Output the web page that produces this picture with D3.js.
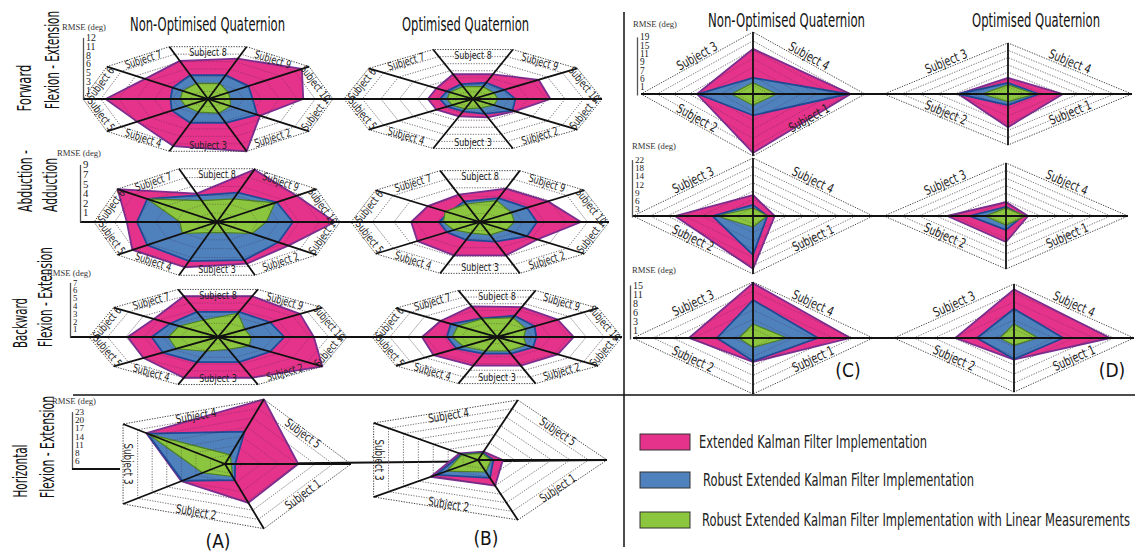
<!DOCTYPE html>
<html>
<head>
<meta charset="utf-8">
<script src="https://cdn.jsdelivr.net/npm/d3@7"></script>
<style>
  body { margin: 0; background: #fff; }
  text { font-family: "Liberation Sans Narrow", "DejaVu Sans Condensed", "Roboto Condensed", sans-serif; }
  .axis text { font-family: "Liberation Serif", "DejaVu Serif", serif; }
</style>
</head>
<body>
<div id="chart"></div>
<script>
let w = 1135;
let h = 553;

// categories
let subjects10 = ["Subject 1", "Subject 2", "Subject 3", "Subject 4", "Subject 5",
                  "Subject 6", "Subject 7", "Subject 8", "Subject 9", "Subject 10"];
let subjects5 = ["Subject 1", "Subject 2", "Subject 3", "Subject 4", "Subject 5"];
let subjects4 = ["Subject 1", "Subject 2", "Subject 3", "Subject 4"];

let seriesNames = ["Extended Kalman Filter Implementation",
                   "Robust Extended Kalman Filter Implementation",
                   "Robust Extended Kalman Filter Implementation with Linear Measurements"];

// RMSE tick labels (deg) for each row
let ticksFwd = [1, 3, 5, 6, 8, 11, 12];
let ticksAbd = [1, 2, 4, 5, 7, 9];
let ticksBwd = [1, 2, 3, 4, 5, 6, 7];
let ticksHor = [6, 8, 11, 14, 17, 20, 23];
let ticksFwdR = [1, 6, 7, 9, 11, 15, 19];
let ticksAbdR = [3, 6, 9, 12, 14, 18, 22];
let ticksBwdR = [1, 3, 6, 8, 11, 15];

// RMSE values (deg), subject order 1..n
// forward flexion - extension (A/B)
let fwdNonEKF  = [5.6, 12, 11.3, 7.8, 10.2, 6.7, 8.3, 9.2, 11.5, 9.0];
let fwdNonREKF = [5.4, 5.2, 5.2, 4.0, 3.2, 3.9, 5.2, 5.2, 4.6, 4.0];
let fwdNonLin  = [2.1, 2.8, 2.5, 2.1, 2.1, 2.5, 3.2, 3.2, 1.8, 1.5];
let fwdOptEKF  = [4.6, 4.2, 3.9, 3.9, 3.9, 3.9, 5.5, 5.5, 6.8, 6.4];
let fwdOptREKF = [4.3, 3.2, 2.5, 2.5, 2.6, 2.5, 3.2, 3.6, 3.2, 3.6];
let fwdOptLin  = [1.8, 1.5, 1.8, 1.8, 1.8, 2.1, 2.5, 2.5, 1.8, 1.7];
// abduction - adduction
let abdNonEKF  = [5.6, 6.4, 7.2, 7.2, 5.8, 9.0, 4.2, 8.8, 6.6, 8.5];
let abdNonREKF = [4.7, 5.6, 5.8, 5.4, 4.9, 5.4, 4.0, 4.3, 4.6, 4.7];
let abdNonLin  = [2.2, 1.2, 1.2, 2.2, 1.8, 5.4, 2.8, 3.2, 4.5, 2.8];
let abdOptEKF  = [4.3, 4.9, 4.9, 4.6, 4.2, 4.0, 4.2, 4.9, 4.9, 6.4];
let abdOptREKF = [3.4, 2.6, 2.2, 1.9, 1.9, 1.8, 2.8, 3.6, 3.4, 3.3];
let abdOptLin  = [1.5, 1.5, 1.3, 1.5, 1.7, 2.0, 2.2, 3.0, 1.8, 1.6];
// backward flexion - extension
let bwdNonEKF  = [7.0, 6.0, 6.0, 5.0, 4.9, 4.3, 6.0, 6.0, 5.5, 5.2];
let bwdNonREKF = [3.5, 3.7, 3.7, 3.7, 3.6, 3.2, 3.7, 3.7, 3.5, 3.6];
let bwdNonLin  = [2.1, 1.8, 2.1, 2.8, 2.7, 2.6, 2.5, 3.5, 1.8, 1.8];
let bwdOptEKF  = [4.2, 4.3, 4.3, 4.4, 4.2, 3.9, 4.6, 4.5, 4.2, 4.3];
let bwdOptREKF = [2.5, 2.5, 2.5, 2.8, 2.8, 3.2, 2.8, 3.2, 2.6, 2.2];
let bwdOptLin  = [2.0, 2.1, 2.1, 2.3, 2.5, 2.7, 2.7, 2.9, 2.0, 1.5];
// horizontal flexion - extension
let horNonEKF  = [14.6, 11.0, 18.2, 23, 14.2];
let horNonREKF = [7.5, 10.8, 18.0, 12.5, 3.4];
let horNonLin  = [6.7, 7.1, 17.8, 5.9, 2.1];
let horOptEKF  = [11.0, 11.5, 6.5, 5.9, 6.7];
let horOptREKF = [8.3, 10.4, 6.2, 5.0, 5.0];
let horOptLin  = [6.8, 8.3, 6.1, 4.6, 4.2];
// right panel (C/D)
let fwdRNonEKF  = [17.6, 8.0, 11.4, 15.4];
let fwdRNonREKF = [6.4, 7.9, 5.1, 14.8];
let fwdRNonLin  = [2.3, 2.7, 2.3, 3.4];
let fwdROptEKF  = [10.1, 6.8, 6.2, 7.2];
let fwdROptREKF = [3.7, 6.8, 3.7, 4.7];
let fwdROptLin  = [1.3, 3.3, 2.3, 3.7];
let abdRNonEKF  = [19.5, 13.1, 7.6, 3.8];
let abdRNonREKF = [13.4, 7.1, 4.0, 2.5];
let abdRNonLin  = [4.0, 6.3, 2.9, 2.5];
let abdROptEKF  = [10.3, 10.1, 5.5, 3.8];
let abdROptREKF = [5.5, 6.3, 3.6, 2.9];
let abdROptLin  = [3.6, 3.6, 3.2, 3.4];
let bwdRNonEKF  = [4.7, 6.4, 14.5, 10.6];
let bwdRNonREKF = [4.4, 2.6, 8.2, 6.5];
let bwdRNonLin  = [1.0, 0.7, 2.0, 2.4];
let bwdROptEKF  = [4.2, 5.8, 12.6, 10.4];
let bwdROptREKF = [4.0, 2.7, 6.5, 4.4];
let bwdROptLin  = [0.8, 0.7, 2.1, 1.4];

let fills = ["#e5338b", "#4f81bd", "#8cc63f"];
let strokes = ["#7a2e8e", "#1f4a96", "#4f7f24"];

let viz = d3.select("#chart")
  .append("svg")
  .attr("width", w)
  .attr("height", h)
  .style("background-color", "white");

// radar layout
let charts = [
  {cx: 208, cy: 99, rx: 125, ry: 55, ticks: ticksFwd, cats: subjects10, data: [fwdNonEKF, fwdNonREKF, fwdNonLin], fs: 11, inset: 6, shift: 0},
  {cx: 473, cy: 99, rx: 129, ry: 52, ticks: ticksFwd, cats: subjects10, data: [fwdOptEKF, fwdOptREKF, fwdOptLin], fs: 11, inset: 6, shift: 0},
  {cx: 217, cy: 222, rx: 123, ry: 56, ticks: ticksAbd, cats: subjects10, data: [abdNonEKF, abdNonREKF, abdNonLin], fs: 11, inset: 6, shift: 0},
  {cx: 480, cy: 222, rx: 129, ry: 54, ticks: ticksAbd, cats: subjects10, data: [abdOptEKF, abdOptREKF, abdOptLin], fs: 11, inset: 6, shift: 0},
  {cx: 218, cy: 337, rx: 129, ry: 50, ticks: ticksBwd, cats: subjects10, data: [bwdNonEKF, bwdNonREKF, bwdNonLin], fs: 11, inset: 6, shift: 0},
  {cx: 497, cy: 337, rx: 125, ry: 49, ticks: ticksBwd, cats: subjects10, data: [bwdOptEKF, bwdOptREKF, bwdOptLin], fs: 11, inset: 6, shift: 0},
  {cx: 225, cy: 464, rx: 126, ry: 68, ticks: ticksHor, cats: subjects5, data: [horNonEKF, horNonREKF, horNonLin], fs: 12, inset: 5, shift: 0},
  {cx: 478, cy: 460, rx: 129, ry: 63, ticks: ticksHor, cats: subjects5, data: [horOptEKF, horOptREKF, horOptLin], fs: 12, inset: 5, shift: 0},
  {cx: 753, cy: 94, rx: 112, ry: 62, ticks: ticksFwdR, cats: subjects4, data: [fwdRNonEKF, fwdRNonREKF, fwdRNonLin], fs: 13, inset: 0, shift: -7},
  {cx: 1008, cy: 94, rx: 124, ry: 51, ticks: ticksFwdR, cats: subjects4, data: [fwdROptEKF, fwdROptREKF, fwdROptLin], fs: 13, inset: 0, shift: -7},
  {cx: 753, cy: 216, rx: 120, ry: 58, ticks: ticksAbdR, cats: subjects4, data: [abdRNonEKF, abdRNonREKF, abdRNonLin], fs: 13, inset: 0, shift: -7},
  {cx: 1006, cy: 216, rx: 122, ry: 53, ticks: ticksAbdR, cats: subjects4, data: [abdROptEKF, abdROptREKF, abdROptLin], fs: 13, inset: 0, shift: -7},
  {cx: 753, cy: 338, rx: 120, ry: 56, ticks: ticksBwdR, cats: subjects4, data: [bwdRNonEKF, bwdRNonREKF, bwdRNonLin], fs: 13, inset: 0, shift: -7},
  {cx: 1014, cy: 338, rx: 120, ry: 54, ticks: ticksBwdR, cats: subjects4, data: [bwdROptEKF, bwdROptREKF, bwdROptLin], fs: 13, inset: 0, shift: -7}
];

// long horizontal spokes that join the charts of a row
let rowLines = [
  [83, 99, 602, 99], [80, 222, 607, 222], [70, 337, 620, 337],
  [225, 464, 607, 460],
  [642, 94, 1132, 94], [640, 216, 1128, 216], [640, 338, 1125, 338]
];

viz.selectAll(".rowline").data(rowLines).enter()
  .append("line")
  .attr("class", "rowline")
  .attr("x1", d => d[0]).attr("y1", d => d[1])
  .attr("x2", d => d[2]).attr("y2", d => d[3])
  .attr("stroke", "#111")
  .attr("stroke-width", 2);

function drawRadar(c) {
  let g = viz.append("g");
  let n = c.cats.length;
  let nt = c.ticks.length;
  // ring scale: each tick on its own equally spaced ring
  let rScale = d3.scaleLinear()
    .domain([0].concat(c.ticks))
    .range(d3.range(nt + 1).map(k => k / nt));
  let ang = i => -(i + 1) * 2 * Math.PI / n;
  let pt = (i, f) => [c.cx + c.rx * f * Math.cos(ang(i)), c.cy - c.ry * f * Math.sin(ang(i))];
  let poly = d3.line().curve(d3.curveLinearClosed);
  let ringFracs = d3.range(1, nt).map(k => k / nt);

  g.selectAll(".ring").data(ringFracs).enter()
    .append("path")
    .attr("d", f => poly(d3.range(n).map(i => pt(i, f))))
    .attr("fill", "none")
    .attr("stroke", "#9a9a9a")
    .attr("stroke-width", 0.8)
    .attr("stroke-dasharray", "1.2,1.4");

  g.selectAll(".series").data(c.data).enter()
    .append("path")
    .attr("d", vals => poly(vals.map((v, i) => pt(i, rScale(v)))))
    .attr("fill", (d, k) => fills[k])
    .attr("stroke", (d, k) => strokes[k])
    .attr("stroke-width", (d, k) => k == 2 ? 1.2 : 1.8)
    .attr("stroke-linejoin", "round");

  // rings show through the filled areas
  g.selectAll(".ringover").data(ringFracs).enter()
    .append("path")
    .attr("d", f => poly(d3.range(n).map(i => pt(i, f))))
    .attr("fill", "none")
    .attr("stroke", "rgba(60,30,60,0.45)")
    .attr("stroke-width", 0.8)
    .attr("stroke-dasharray", "1.2,1.4");

  // outer frame
  g.append("path")
    .attr("d", poly(d3.range(n).map(i => pt(i, 1))))
    .attr("fill", "none")
    .attr("stroke", "#444")
    .attr("stroke-width", 1)
    .attr("stroke-dasharray", "1.3,1.3");

  // spokes
  let spokes = n % 2 == 0
    ? d3.range(n / 2).map(i => [pt(i, 1), pt(i + n / 2, 1)])
    : d3.range(n).map(i => [[c.cx, c.cy], pt(i, 1)]);
  g.selectAll(".spoke").data(spokes).enter()
    .append("line")
    .attr("x1", d => d[0][0]).attr("y1", d => d[0][1])
    .attr("x2", d => d[1][0]).attr("y2", d => d[1][1])
    .attr("stroke", "#111")
    .attr("stroke-width", 1.8);

  // subject labels along the frame edges
  g.selectAll(".subj").data(c.cats).enter()
    .append("text")
    .attr("transform", function(d, i) {
      let a = pt(i, 1);
      let b = pt((i - 1 + n) % n, 1);
      let mx = (a[0] + b[0]) / 2, my = (a[1] + b[1]) / 2;
      let vx = c.cx - mx, vy = c.cy - my;
      let len = Math.sqrt(vx * vx + vy * vy);
      mx += vx / len * c.inset;
      my += vy / len * c.inset + c.shift;
      let rot = Math.atan2(b[1] - a[1], b[0] - a[0]) * 180 / Math.PI;
      if (rot > 90) rot -= 180;
      if (rot <= -90) rot += 180;
      return "translate(" + mx + "," + my + ") rotate(" + rot + ")";
    })
    .attr("text-anchor", "middle")
    .attr("dominant-baseline", "central")
    .attr("font-size", c.fs)
    .attr("textLength", d => c.fs * 0.38 * d.length)
    .attr("lengthAdjust", "spacingAndGlyphs")
    .attr("fill", "#222")
    .text(d => d);
}

charts.forEach(drawRadar);

// RMSE axes
let axes = [
  {x: 83, base: 99, step: 8.8, ticks: ticksFwd, lx: 62, ly: 30},
  {x: 80, base: 222, step: 9.6, ticks: ticksAbd, lx: 57, ly: 156},
  {x: 70, base: 337, step: 7.8, ticks: ticksBwd, lx: 47, ly: 276},
  {x: 72, base: 469, step: 8.2, ticks: ticksHor, lx: 52, ly: 404},
  {x: 637, base: 95, step: 8.3, ticks: ticksFwdR, lx: 633, ly: 27},
  {x: 632, base: 217, step: 8.2, ticks: ticksAbdR, lx: 632, ly: 149},
  {x: 630, base: 339, step: 9, ticks: ticksBwdR, lx: 632, ly: 273}
];

axes.forEach(function(a) {
  let yScale = d3.scaleLinear()
    .domain([0].concat(a.ticks))
    .range(d3.range(a.ticks.length + 1).map(k => a.base - k * a.step));
  let yAxis = d3.axisRight(yScale)
    .tickValues(a.ticks)
    .tickFormat(d3.format("d"))
    .tickSize(0).tickSizeOuter(0).tickPadding(3);
  let ag = viz.append("g").attr("class", "axis")
    .attr("transform", "translate(" + a.x + ",0)")
    .call(yAxis);
  ag.select(".domain").attr("stroke", "#555").attr("stroke-width", 1.3);
  ag.selectAll("text")
    .attr("font-size", Math.min(11, a.step * 1.12))
    .attr("fill", "#222");
  viz.append("text")
    .attr("class", "axis")
    .attr("x", a.lx).attr("y", a.ly)
    .attr("font-size", 9)
    .attr("textLength", 44)
    .attr("lengthAdjust", "spacingAndGlyphs")
    .attr("fill", "#333")
    .attr("style", "font-family:'Liberation Serif','DejaVu Serif',serif")
    .text("RMSE (deg)");
});

// baseline of the horizontal flexion axis
viz.append("line")
  .attr("x1", 72).attr("y1", 469).attr("x2", 120).attr("y2", 469)
  .attr("stroke", "#111").attr("stroke-width", 1.8);

// panel dividers
viz.append("line").attr("x1", 624).attr("y1", 12).attr("x2", 624).attr("y2", 547)
  .attr("stroke", "#111").attr("stroke-width", 1.5);
viz.append("line").attr("x1", 73).attr("y1", 395).attr("x2", 1135).attr("y2", 395)
  .attr("stroke", "#111").attr("stroke-width", 1.5);

// column titles
let titles = [
  {t: "Non-Optimised Quaternion", x: 130, y: 31, len: 155},
  {t: "Optimised Quaternion", x: 402, y: 31, len: 127},
  {t: "Non-Optimised Quaternion", x: 708, y: 27, len: 157},
  {t: "Optimised Quaternion", x: 972, y: 27, len: 128}
];
viz.selectAll(".title").data(titles).enter()
  .append("text")
  .attr("x", d => d.x).attr("y", d => d.y)
  .attr("font-size", 20)
  .attr("textLength", d => d.len)
  .attr("lengthAdjust", "spacingAndGlyphs")
  .attr("fill", "#111")
  .text(d => d.t);

// row titles (rotated)
let rowTitles = [
  {t: "Forward", x: 24, y: 88, len: 47},
  {t: "Flexion - Extension", x: 52, y: 60, len: 98},
  {t: "Abduction -", x: 25, y: 181, len: 62},
  {t: "Adduction", x: 50, y: 185, len: 54},
  {t: "Backward", x: 20, y: 323, len: 50},
  {t: "Flexion - Extension", x: 45, y: 297, len: 100},
  {t: "Horizontal", x: 20, y: 471, len: 53},
  {t: "Flexion - Extension", x: 47, y: 447, len: 102}
];
viz.selectAll(".rowtitle").data(rowTitles).enter()
  .append("text")
  .attr("transform", d => "translate(" + d.x + "," + d.y + ") rotate(-90)")
  .attr("text-anchor", "middle")
  .attr("dominant-baseline", "central")
  .attr("font-size", 20)
  .attr("textLength", d => d.len)
  .attr("lengthAdjust", "spacingAndGlyphs")
  .attr("fill", "#111")
  .text(d => d.t);

// panel letters
let letters = [
  {t: "(A)", x: 218, y: 541}, {t: "(B)", x: 486, y: 538},
  {t: "(C)", x: 848, y: 370}, {t: "(D)", x: 1112, y: 370}
];
viz.selectAll(".letter").data(letters).enter()
  .append("text")
  .attr("x", d => d.x).attr("y", d => d.y)
  .attr("text-anchor", "middle")
  .attr("dominant-baseline", "central")
  .attr("font-size", 19)
  .attr("fill", "#111")
  .text(d => d.t);

// legend
let legY = [442, 480, 520];
let legLen = [228, 271, 428];
let legX = [699, 703, 702];
let leg = viz.selectAll(".leg").data(seriesNames).enter()
  .append("g")
  .attr("class", "leg");
leg.append("rect")
  .attr("x", 640).attr("y", (d, i) => legY[i] - 8)
  .attr("width", 50).attr("height", 16)
  .attr("fill", (d, i) => fills[i])
  .attr("stroke", "#333")
  .attr("stroke-width", 1);
leg.append("text")
  .attr("x", (d, i) => legX[i]).attr("y", (d, i) => legY[i])
  .attr("dominant-baseline", "central")
  .attr("font-size", 17)
  .attr("textLength", (d, i) => legLen[i])
  .attr("lengthAdjust", "spacingAndGlyphs")
  .attr("fill", "#222")
  .text(d => d);
</script>
</body>
</html>
